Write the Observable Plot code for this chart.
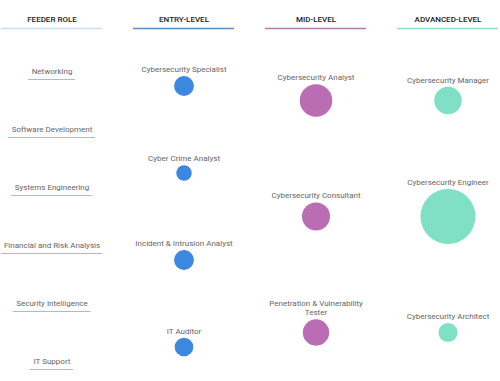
<!DOCTYPE html>
<html>
<head>
<meta charset="utf-8">
<script src="https://cdn.jsdelivr.net/npm/d3@7"></script>
<script src="https://cdn.jsdelivr.net/npm/@observablehq/plot@0.6"></script>
<style>
  html, body { margin: 0; padding: 0; background: #fff; }
  #chart svg { display: block; }
</style>
</head>
<body>
<div id="chart"></div>
<script>
// ---- data ----
const columns = ["FEEDER ROLE", "ENTRY-LEVEL", "MID-LEVEL", "ADVANCED-LEVEL"];
const columnColors = ["#c8deef", "#5a8bc9", "#b07aae", "#8fe0cc"];
const dotColors = ["#9fbde9", "#3c88e0", "#bb6db3", "#7fe0c6"];

const feederRoles = ["Networking", "Software Development", "Systems Engineering",
  "Financial and Risk Analysis", "Security Intelligence", "IT Support"];

const entryRoles = ["Cybersecurity Specialist", "Cyber Crime Analyst",
  "Incident & Intrusion Analyst", "IT Auditor"];
const entrySizes = [13, 8, 13, 11.5];

const midRoles = ["Cybersecurity Analyst", "Cybersecurity Consultant",
  "Penetration & Vulnerability\nTester"];
const midSizes = [35, 26, 23];

const advancedRoles = ["Cybersecurity Manager", "Cybersecurity Engineer",
  "Cybersecurity Architect"];
const advancedSizes = [25, 100, 12];

// ---- layout constants ----
const W = 500, H = 381;
const fontFamily = "Roboto, 'Noto Sans', sans-serif";
const headerRuleRow = -0.04;

// ---- build tables ----
function place(roles, sizes, column) {
  return roles.map((role, i) => ({
    column, role, size: sizes ? sizes[i] : null, pos: (i + 0.5) / roles.length
  }));
}
const feeders = place(feederRoles, null, columns[0]);
const roles = [
  ...place(entryRoles, entrySizes, columns[1]),
  ...place(midRoles, midSizes, columns[2]),
  ...place(advancedRoles, advancedSizes, columns[3])
];

const xOpts = {type: "band", domain: columns, range: [0, W], paddingInner: 0.233, paddingOuter: 0, axis: null};
const yOpts = {domain: [0, 1], range: [42, 390], axis: null};
const rOpts = {domain: [0, 100], range: [0, 27.5]};
const xScale = Plot.scale({x: xOpts});
const yScale = Plot.scale({y: yOpts});
const rScale = Plot.scale({r: rOpts});
const bw = xScale.bandwidth;

roles.forEach(d => {
  const rr = rScale.apply(d.size);
  d.labelPos = yScale.invert(yScale.apply(d.pos) - rr - 4);
});

// measure feeder label widths for underlines
const ctx = document.createElement("canvas").getContext("2d");
ctx.font = `8px ${fontFamily}`;
const underlineMarks = feeders.map(d => {
  const w = ctx.measureText(d.role).width + 7;
  const inset = Math.max(0, (bw - w) / 2);
  return Plot.tickY([d], {x: "column", y: "pos", dy: 8, stroke: dotColors[0],
    strokeWidth: 1, insetLeft: inset, insetRight: inset});
});

const chart = Plot.plot({
  width: W,
  height: H,
  margin: 0,
  style: {fontFamily, background: "#fff"},
  x: xOpts,
  y: yOpts,
  r: rOpts,
  color: {domain: columns, range: dotColors},
  marks: [
    Plot.text(columns, {x: d => d, frameAnchor: "top", lineAnchor: "middle", dy: 19,
      text: d => d, fontSize: 8, fontWeight: 500, fill: "#222"}),
    ...columns.map((c, i) => Plot.tickY([c], {x: d => d, y: () => headerRuleRow,
      stroke: columnColors[i], strokeWidth: 1.5})),
    Plot.text(feeders, {x: "column", y: "pos", text: "role", fontSize: 8, fill: "#666",
      lineAnchor: "middle"}),
    ...underlineMarks,
    Plot.dot(roles, {x: "column", y: "pos", r: "size", fill: "column", stroke: "none"}),
    Plot.text(roles, {x: "column", y: "labelPos", text: "role", fontSize: 8, fill: "#666",
      lineAnchor: "bottom", lineHeight: 1.2})
  ]
});
document.getElementById("chart").appendChild(chart);
</script>
</body>
</html>
